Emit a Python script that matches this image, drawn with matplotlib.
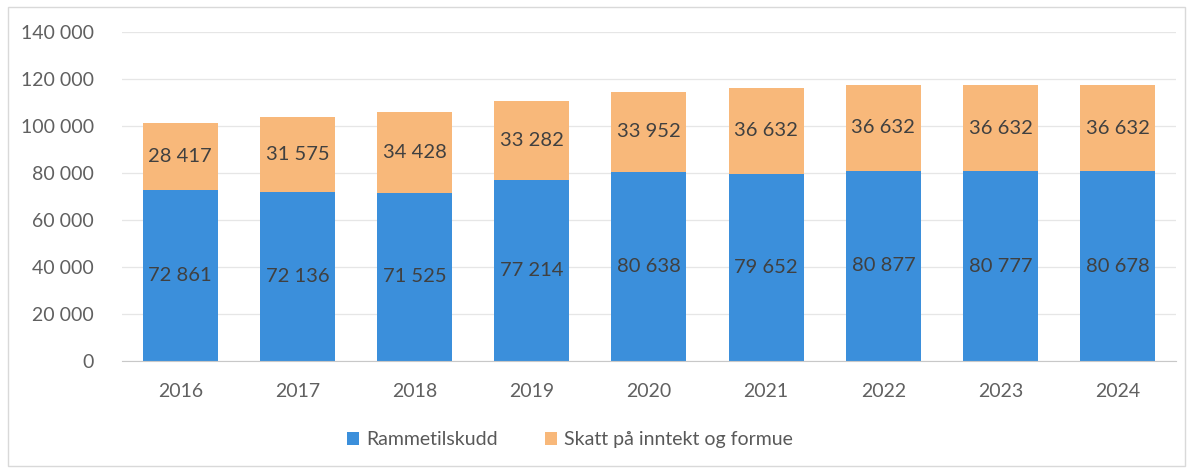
import matplotlib.pyplot as plt
from matplotlib.patches import Rectangle
import numpy as np

years = ["2016", "2017", "2018", "2019", "2020", "2021", "2022", "2023", "2024"]
rammetilskudd = [72861, 72136, 71525, 77214, 80638, 79652, 80877, 80777, 80678]
skatt = [28417, 31575, 34428, 33282, 33952, 36632, 36632, 36632, 36632]

BLUE = "#3b8fdb"
ORANGE = "#f8b87a"

plt.rcParams["font.family"] = ["Lato", "DejaVu Sans"]


def fmt(v):
    return f"{v:,}".replace(",", " ")


fig = plt.figure(figsize=(11.93, 4.73), dpi=100)
ax = fig.add_axes([0.102, 0.237, 0.884, 0.695])

# outer chart border
fig.patches.append(Rectangle((0.007, 0.015), 0.986, 0.97, transform=fig.transFigure,
                             fill=False, edgecolor="#d9d9d9", linewidth=1.0))

x = np.arange(len(years))
w = 0.64
b1 = ax.bar(x, rammetilskudd, w, color=BLUE, label="Rammetilskudd", zorder=2)
b2 = ax.bar(x, skatt, w, bottom=rammetilskudd, color=ORANGE,
            label="Skatt på inntekt og formue", zorder=2)

for i in range(len(years)):
    ax.text(x[i], rammetilskudd[i] / 2, fmt(rammetilskudd[i]), ha="center", va="center",
            fontsize=14.5, color="#404040", zorder=3)
    ax.text(x[i], rammetilskudd[i] + skatt[i] / 2, fmt(skatt[i]), ha="center", va="center",
            fontsize=14.5, color="#404040", zorder=3)

ax.set_xlim(-0.5, len(years) - 0.5)
ax.set_ylim(0, 140000)
ax.set_yticks(np.arange(0, 140001, 20000))
ax.set_yticklabels([fmt(v) for v in range(0, 140001, 20000)])
ax.set_xticks(x)
ax.set_xticklabels(years)
ax.tick_params(axis="both", length=0, labelsize=14, colors="#606060")
ax.tick_params(axis="x", pad=16)
ax.tick_params(axis="y", pad=20)
ax.grid(axis="y", color="#e6e6e6", linewidth=0.9, zorder=0)
for s in ["top", "right", "left"]:
    ax.spines[s].set_visible(False)
ax.spines["bottom"].set_color("#c8c8c8")

fig.legend(handles=[b1, b2], loc="center", bbox_to_anchor=(0.478, 0.07), ncol=2,
           frameon=False, fontsize=14, handlelength=0.6, handleheight=0.6,
           columnspacing=2.4, handletextpad=0.4, labelcolor="#595959")

fig.savefig("out.png", dpi=100, facecolor="white")
